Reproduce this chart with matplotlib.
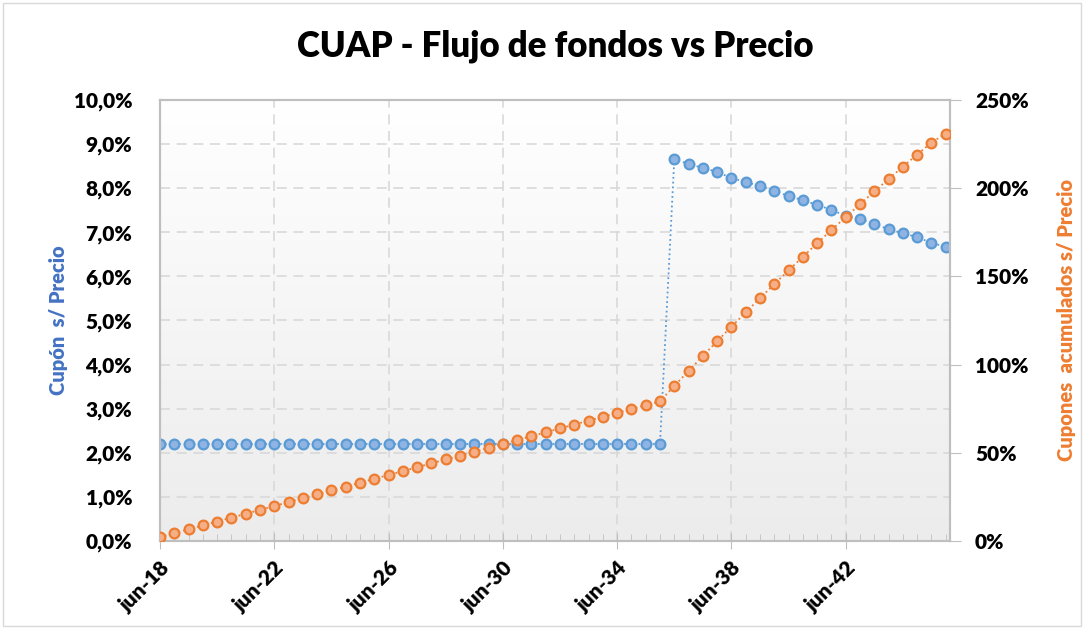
import numpy as np
import matplotlib.pyplot as plt
from matplotlib.ticker import FuncFormatter, MultipleLocator
from matplotlib.patches import Rectangle

plt.rcParams['font.family'] = ['Lato', 'DejaVu Sans']

# semestres jun-18 ... dic-45
periodos = [("jun-" if i % 2 == 0 else "dic-") + str(18 + i // 2) for i in range(56)]

# cupon s/ precio (%)
cupon = [2.2, 2.2, 2.2, 2.2, 2.2, 2.2, 2.2, 2.2, 2.2, 2.2, 2.2, 2.2,
         2.2, 2.2, 2.2, 2.2, 2.2, 2.2, 2.2, 2.2, 2.2, 2.2, 2.2, 2.2,
         2.2, 2.2, 2.2, 2.2, 2.2, 2.2, 2.2, 2.2, 2.2, 2.2, 2.2, 2.2,
         8.66, 8.55, 8.46, 8.37, 8.23, 8.14, 8.05, 7.94, 7.82, 7.73,
         7.62, 7.51, 7.37, 7.30, 7.19, 7.07, 6.98, 6.89, 6.76, 6.67]

# cupones acumulados s/ precio (%)
acumulado = [2.2, 4.4, 6.6, 8.8, 11.0, 13.2, 15.4, 17.6, 19.8, 22.0, 24.2, 26.4,
             28.6, 30.8, 33.0, 35.2, 37.4, 39.6, 41.8, 44.0, 46.2, 48.4, 50.6, 52.8,
             55.0, 57.2, 59.4, 61.6, 63.8, 66.0, 68.2, 70.4, 72.6, 74.8, 77.0, 79.2,
             87.86, 96.41, 104.87, 113.24, 121.47, 129.61, 137.66, 145.60, 153.42, 161.15,
             168.77, 176.28, 183.65, 190.95, 198.14, 205.21, 212.19, 219.08, 225.84, 231.0]

x = np.arange(len(periodos))

fig = plt.figure(figsize=(10.84, 6.29), dpi=100)
ax = fig.add_axes([0.1476, 0.140, 0.7288, 0.701])
ax2 = ax.twinx()

# fondo degradado
grad = np.linspace(1, 0, 256).reshape(-1, 1)
cmap = plt.matplotlib.colors.LinearSegmentedColormap.from_list('g', ['#ececec', '#ffffff'])
ax.imshow(grad, extent=[0, 55.3, 0, 10], aspect='auto', cmap=cmap, zorder=0)

ax.plot(x, cupon, ':', color='#5b9bd5', lw=1.3, marker='o', ms=7,
        mfc='#8fb4e3', mec='#5b9bd5', mew=1.6, zorder=3)
ax2.plot(x, acumulado, ':', color='#ed7d31', lw=1.3, marker='o', ms=7,
         mfc='#f5ae85', mec='#ed7d31', mew=1.6, zorder=3)

ax.set_xlim(0, 55.3)
ax.set_ylim(0, 10)
ax2.set_ylim(0, 250)

ax.yaxis.set_major_locator(MultipleLocator(1))
ax2.yaxis.set_major_locator(MultipleLocator(50))
ax.yaxis.set_major_formatter(FuncFormatter(lambda v, p: f"{v:.1f}%".replace('.', ',')))
ax2.yaxis.set_major_formatter(FuncFormatter(lambda v, p: f"{v:.0f}%"))

ax.set_xticks(x[::8])
ax.set_xticklabels([periodos[i] for i in x[::8]], rotation=45, ha='right', va='top',
                   rotation_mode='anchor', fontsize=15, fontweight='heavy')
ax.set_xticks(x, minor=True)
ax.tick_params(axis='x', which='major', direction='inout', length=12, color='#bfbfbf', pad=6)
ax.tick_params(axis='x', which='minor', direction='in', length=5, color='#bfbfbf')
ax.tick_params(axis='y', length=0, pad=20, labelsize=15)
ax2.tick_params(axis='y', length=8, color='#bfbfbf', pad=10, labelsize=15)
for lab in ax.get_yticklabels() + ax2.get_yticklabels():
    lab.set_fontweight('heavy')

ax.grid(True, which='major', color='#d9d9d9', linestyle=(0, (6, 4)), lw=1.2)
ax.set_axisbelow(True)
for a in (ax, ax2):
    for s in a.spines.values():
        s.set_color('#bfbfbf')
        s.set_linewidth(1.5)

ax.set_ylabel('Cupón  s/ Precio', color='#4472c4', fontsize=14.5, fontweight='heavy', labelpad=4)
ax2.set_ylabel('Cupones  acumulados s/ Precio', color='#ed7d31', fontsize=14.5,
               fontweight='heavy', rotation=90, labelpad=20)

fig.text(0.512, 0.927, 'CUAP - Flujo de fondos vs Precio', ha='center', va='center',
         fontsize=25, fontweight='heavy')

fig.patches.append(Rectangle((0.003, 0.005), 0.994, 0.99, transform=fig.transFigure,
                             fill=False, edgecolor='#d9d9d9', lw=1))

fig.savefig('out.png', dpi=100)
